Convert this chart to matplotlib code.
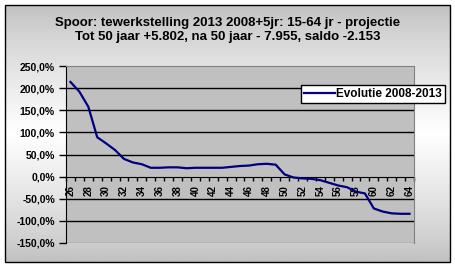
import numpy as np
import matplotlib.pyplot as plt
from matplotlib.patches import Rectangle
from matplotlib.ticker import FuncFormatter

# ages and evolution (%)
ages = list(range(26, 65))
evolutie = [214, 192, 158, 89, 75, 60, 40, 32, 28, 20,
            20, 21, 21, 19, 20, 20, 20, 20, 22, 24,
            25, 28, 29, 27, 5, -2, -4, -5, -8, -14,
            -20, -24, -34, -38, -72, -79, -83, -84, -84]
yticks = [-150, -100, -50, 0, 50, 100, 150, 200, 250]
title = ("Spoor: tewerkstelling 2013 2008+5jr: 15-64 jr - projectie\n"
         "Tot 50 jaar +5.802, na 50 jaar - 7.955, saldo -2.153")

plt.rcParams['font.family'] = ['Liberation Sans', 'DejaVu Sans']
plt.rcParams['font.weight'] = 'bold'
plt.rcParams['axes.unicode_minus'] = False

W, H = 456, 267
fig = plt.figure(figsize=(W / 100, H / 100), dpi=100)
fig.patch.set_facecolor('white')

# background frame with vertical gradient
bg = fig.add_axes([0, 0, 1, 1])
bg.set_xlim(0, W)
bg.set_ylim(H, 0)
bg.axis('off')
t = np.linspace(0, 1, 256)
shade = 192 + 63 * (1 - np.abs(t - 0.5) / 0.5) ** 0.8
grad = np.repeat(shade[:, None], 2, axis=1) / 255.0
bg.imshow(np.dstack([grad, grad, grad]), extent=[5, 450, 262, 5],
          aspect='auto', zorder=0)
bg.add_patch(Rectangle((5, 5), 445, 257, fill=False, edgecolor='black',
                       linewidth=1, zorder=2))
bg.text(W / 2, 30, title, ha='center', va='center', fontsize=9.5,
        fontweight='bold', linespacing=1.25)

# plot area
ax = fig.add_axes([66 / W, 1 - 243 / H, 348 / W, 177 / H])
ax.set_facecolor('#c0c0c0')
x = np.arange(len(ages))
ax.plot(x, evolutie, color='#000080', linewidth=1.6, label='Evolutie 2008-2013',
        zorder=3)
ax.set_xlim(-0.5, len(ages) - 0.5)
ax.set_ylim(-150, 250)
ax.set_yticks(yticks)
ax.yaxis.set_major_formatter(FuncFormatter(lambda v, p: f"{v:.1f}%".replace('.', ',')))
ax.tick_params(axis='y', length=5, width=1, labelsize=7.5, pad=3, color='black')
for v in yticks[1:-1]:
    if v != 0:
        ax.axhline(v, color='black', linewidth=1, zorder=1)

# category axis at zero
ax.spines['bottom'].set_position(('data', 0))
ax.spines['bottom'].set_color('black')
ax.spines['bottom'].set_zorder(2)
ax.spines['left'].set_color('black')
ax.spines['top'].set_color('#808080')
ax.spines['right'].set_color('#808080')
ax.axhline(-150, color='#808080', linewidth=1, zorder=1)
ax.set_xticks(x[::2])
ax.set_xticklabels([str(a) for a in ages[::2]], rotation=90, fontsize=7)
ax.set_xticks(np.arange(len(ages) + 1) - 0.5, minor=True)
ax.tick_params(axis='x', which='major', length=0, pad=6)
ax.tick_params(axis='x', which='minor', length=3, width=1, color='black')

leg = fig.legend(loc='upper left', bbox_to_anchor=(301 / W, 1 - 85 / H),
                 borderaxespad=0, fancybox=False, framealpha=1,
                 edgecolor='black', fontsize=8.5, handlelength=2.6,
                 handletextpad=0.15, borderpad=0.25)
leg.get_frame().set_linewidth(1)

plt.savefig('out.png', dpi=100)
